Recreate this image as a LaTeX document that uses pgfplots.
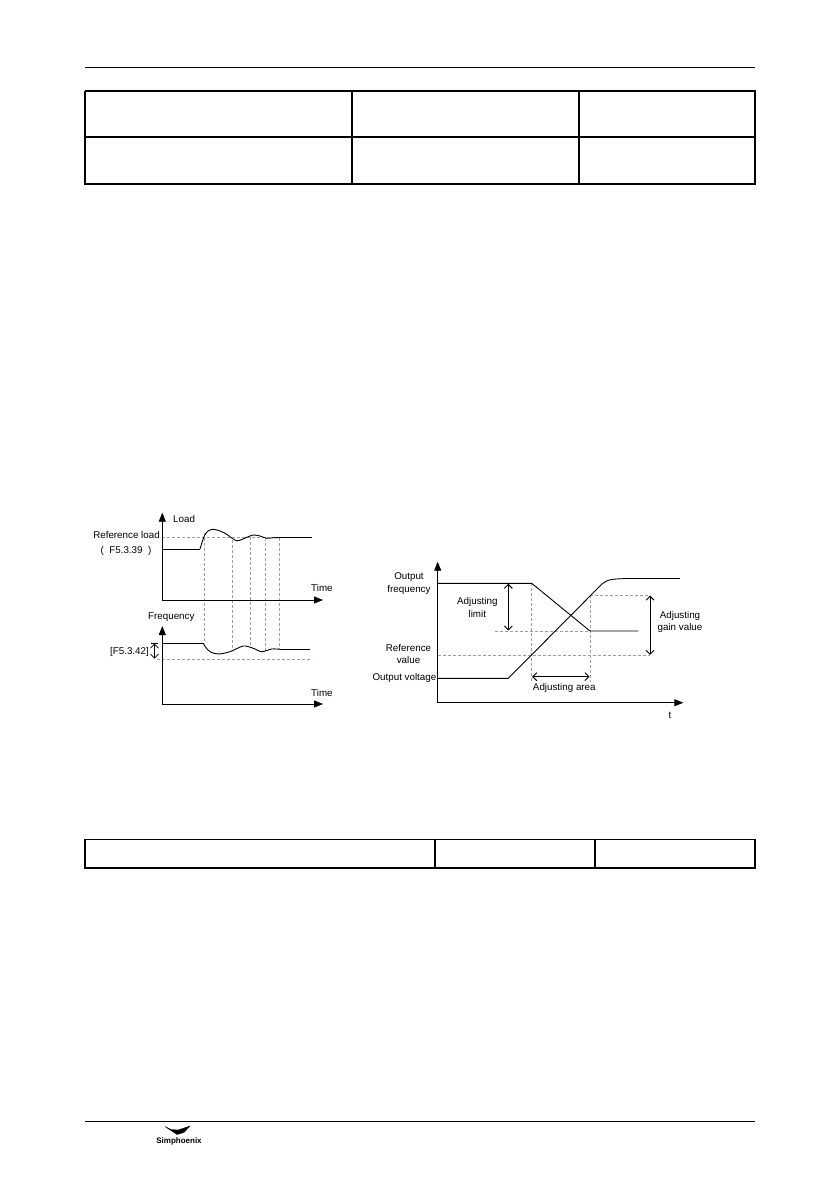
\documentclass[border=0pt]{standalone}
\usepackage{fontspec}
\setmainfont{Liberation Sans}
\usepackage{pgfplots}
\pgfplotsset{compat=1.18}
\usetikzlibrary{arrows.meta}
\tikzset{
  lab/.style={font=\fontsize{9.8}{12.7}\selectfont,inner sep=0pt},
  dsh/.style={gray!75,line width=0.5pt,dash pattern=on 3pt off 2pt},
  ax/.style={-{Triangle[length=9pt,width=7pt]}},
  dbl/.style={{Straight Barb[length=4pt,width=8pt]}-{Straight Barb[length=4pt,width=8pt]},line width=0.9pt}}
\begin{document}
\begin{tikzpicture}
\path[use as bounding box] (0,0) rectangle (839pt,1191pt);
\begin{axis}[at={(0,0)},anchor=south west,width=839pt,height=1191pt,scale only axis,
  xmin=0,xmax=839,ymin=0,ymax=1191,y dir=reverse,hide axis,clip=false,
  cycle list={{black,solid,mark=none}},no marks,
  every axis plot/.append style={black,line width=0.9pt}]
% header line
\addplot[line width=1pt] coordinates {(85,67) (755,67)};
% table 1
\addplot[line width=1.3pt] coordinates {(85,91) (755,91) (755,184) (85,184) (85,91)};
\addplot[line width=1.3pt] coordinates {(85,137) (755,137)};
\addplot[line width=1.3pt] coordinates {(352,91) (352,184)};
\addplot[line width=1.3pt] coordinates {(579,91) (579,184)};
% table 2
\addplot[line width=1.3pt] coordinates {(85,839.3) (755,839.3) (755,868) (85,868) (85,839.3)};
\addplot[line width=1.3pt] coordinates {(435,839.3) (435,868)};
\addplot[line width=1.3pt] coordinates {(595,839.3) (595,868)};
% footer
\addplot[line width=1pt] coordinates {(85,1121.5) (755,1121.5)};
\addplot[fill=black,line width=0.3pt] coordinates {(165,1126.5) (171,1129.5) (178,1130) (190,1126) (184,1132.5) (177,1134.5) (165,1126.5)};
\node[font=\fontsize{8}{9}\selectfont\bfseries,inner sep=0pt] at (axis cs:179,1141) {Simphoenix};

% ---------- diagram 1: load ----------
\addplot[dsh] coordinates {(162.3,537.7) (280,537.7)};
\addplot[dsh] coordinates {(204.3,533.3) (204.3,643.3)};
\addplot[dsh] coordinates {(232.7,540) (232.7,650)};
\addplot[dsh] coordinates {(250,536.5) (250,646.7)};
\addplot[dsh] coordinates {(265.3,538) (265.3,651)};
\addplot[dsh] coordinates {(279.3,537.7) (279.3,649.3)};
\addplot[dsh] coordinates {(156.7,659) (311.7,659)};
\addplot[ax] coordinates {(162.3,600) (162.3,512.7)};
\addplot[ax] coordinates {(162.3,600) (323,600)};
\addplot[black] coordinates {(162.3,549) (200,549)};
\addplot[black,smooth,tension=0.5] coordinates {(200,549) (204.3,536) (208,531) (213.3,529.3) (220,531) (226.7,534.3) (236.7,540.7) (246.7,537.3) (253.3,535) (260,536) (266.7,538.3) (273.3,537.7) (280,537.7)};
\addplot[black] coordinates {(280,537.7) (311.7,537.7)};
\node[lab,anchor=west] at (axis cs:173,519) {Load};
\node[lab] at (axis cs:126.5,535) {Reference load};
\node[lab] at (axis cs:126,551) {(\ \ F5.3.39\ \ )};
\node[lab,anchor=west] at (axis cs:311,588) {Time};
% frequency
\addplot[ax] coordinates {(162.3,704) (162.3,626)};
\addplot[ax] coordinates {(162.3,704) (323,704)};
\addplot[black] coordinates {(162.3,643.3) (203.3,643.3)};
\addplot[black,smooth,tension=0.5] coordinates {(203.3,643.3) (205.5,647) (210,651.7) (218.3,654) (230,651.7) (243.3,646) (253.3,648.3) (261.7,651.7) (271.7,649) (280,649.3)};
\addplot[black] coordinates {(280,649.3) (310,649.3)};
\addplot[black,line width=0.7pt] coordinates {(151,643.3) (158,643.3)};
\addplot[dbl,line width=0.7pt] coordinates {(154.5,643.6) (154.5,658.7)};
\node[lab,anchor=west] at (axis cs:148,617) {Frequency};
\node[lab] at (axis cs:129.5,651.7) {[F5.3.42]};
\node[lab,anchor=west] at (axis cs:311,693) {Time};

% ---------- diagram 2 ----------
\addplot[dsh] coordinates {(495,631) (590,631)};
\addplot[dsh] coordinates {(437.7,655.3) (650,655.3)};
\addplot[dsh] coordinates {(590,595) (650,595)};
\addplot[dsh] coordinates {(531.7,583.3) (531.7,682)};
\addplot[dsh] coordinates {(590,595) (590,682)};
\addplot[ax] coordinates {(437.7,702.7) (437.7,561.7)};
\addplot[ax] coordinates {(437.7,702.7) (683.3,702.7)};
\addplot[black] coordinates {(437.7,583.3) (531.7,583.3) (590,631) (638.3,631)};
\addplot[black] coordinates {(437.7,678.3) (508.3,678.3) (601.7,584.3)};
\addplot[black,smooth,tension=0.6] coordinates {(601.7,584.3) (607,580.8) (613.3,579.3) (622,578.7)};
\addplot[black] coordinates {(622,578.7) (680,578.7)};
\addplot[dbl] coordinates {(508.3,583.8) (508.3,630.5)};
\addplot[dbl] coordinates {(650,595.5) (650,654.8)};
\addplot[dbl] coordinates {(532.2,676.7) (589.5,676.7)};
\node[lab,align=center] at (axis cs:409,583.5) {Output\\frequency};
\node[lab,align=center] at (axis cs:477.3,607.5) {Adjusting\\limit};
\node[lab,align=center] at (axis cs:408.5,654) {Reference\\value};
\node[lab,anchor=east] at (axis cs:436.5,678.3) {Output voltage};
\node[lab] at (axis cs:564.3,688.3) {Adjusting area};
\node[lab,align=center] at (axis cs:680,622) {Adjusting\\gain value};
\node[lab] at (axis cs:670,715) {t};
\end{axis}
\end{tikzpicture}
\end{document}
